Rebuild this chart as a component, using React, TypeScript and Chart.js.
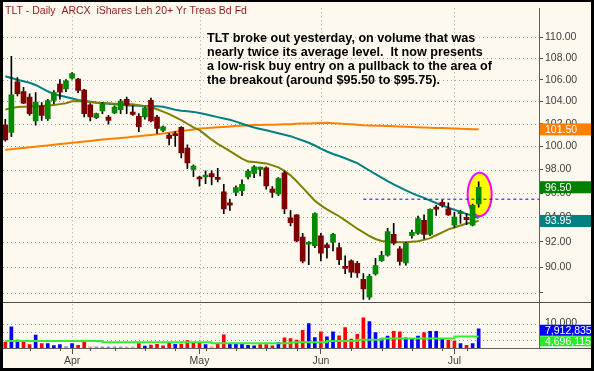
import React, { useEffect, useRef } from "react";
import { Chart, registerables } from "chart.js";

Chart.register(...registerables);
Chart.defaults.font.family = '"Liberation Sans", Arial, sans-serif';

// ---------------- data ----------------
const dates = [
  "2009-03-17","2009-03-18","2009-03-19","2009-03-20","2009-03-23","2009-03-24","2009-03-25","2009-03-26","2009-03-27","2009-03-30","2009-03-31",
  "2009-04-01","2009-04-02","2009-04-03","2009-04-06","2009-04-07","2009-04-08","2009-04-09","2009-04-13","2009-04-14","2009-04-15","2009-04-16","2009-04-17","2009-04-20","2009-04-21","2009-04-22","2009-04-23","2009-04-24","2009-04-27","2009-04-28","2009-04-29","2009-04-30",
  "2009-05-01","2009-05-04","2009-05-05","2009-05-06","2009-05-07","2009-05-08","2009-05-11","2009-05-12","2009-05-13","2009-05-14","2009-05-15","2009-05-18","2009-05-19","2009-05-20","2009-05-21","2009-05-22","2009-05-26","2009-05-27","2009-05-28","2009-05-29",
  "2009-06-01","2009-06-02","2009-06-03","2009-06-04","2009-06-05","2009-06-08","2009-06-09","2009-06-10","2009-06-11","2009-06-12","2009-06-15","2009-06-16","2009-06-17","2009-06-18","2009-06-19","2009-06-22","2009-06-23","2009-06-24","2009-06-25","2009-06-26","2009-06-29","2009-06-30",
  "2009-07-01","2009-07-02","2009-07-06","2009-07-07","2009-07-08",
];

const opens = [
  101.87,101.22,105.80,104.90,104.40,102.26,103.60,102.46,104.10,105.60,
  105.14,106.13,106.05,105.05,103.70,102.55,103.14,102.60,102.96,103.26,
  104.20,103.05,102.66,102.60,104.10,102.60,101.40,101.00,101.10,101.67,
  99.85,98.01,97.30,97.37,97.65,97.30,96.12,95.19,96.07,96.21,
  97.37,97.67,98.01,98.15,96.34,95.93,97.73,93.95,94.21,92.40,
  91.82,91.71,92.50,91.77,91.98,91.55,90.07,90.50,90.30,89.04,
  87.68,89.48,90.52,90.94,92.61,91.45,90.33,92.51,92.68,93.76,
  92.61,94.84,95.24,94.70,93.36,94.30,94.00,93.36,95.10,
];
const highs = [
  102.40,108.19,106.20,105.30,104.70,104.80,103.90,104.20,105.00,106.00,
  106.00,106.65,106.13,105.10,103.80,102.95,103.90,102.75,103.60,104.20,
  104.40,103.60,102.90,103.50,104.30,102.75,101.80,101.15,101.30,101.75,
  100.14,98.40,97.45,97.90,97.90,98.10,96.75,95.50,96.62,97.12,
  98.01,98.35,98.21,98.24,96.56,97.31,97.87,94.56,94.21,92.69,
  92.04,94.38,92.69,91.91,92.69,91.91,90.90,90.57,90.45,89.50,
  89.43,90.70,91.26,93.10,93.50,91.64,92.00,92.96,94.10,94.20,
  94.70,94.98,95.43,95.19,94.43,94.60,94.30,95.10,96.96,
];
const lows = [
  100.46,100.86,104.50,103.80,102.75,101.87,102.30,102.30,103.80,104.20,
  104.90,106.05,104.80,102.60,102.26,102.45,102.90,101.96,102.90,102.90,
  102.90,102.75,101.30,102.40,102.17,101.15,101.30,100.14,100.00,99.00,
  98.07,97.40,96.60,96.80,96.70,96.96,94.30,94.56,95.80,95.80,
  97.20,97.31,97.45,96.34,95.65,95.80,94.30,93.30,92.00,90.33,
  90.20,91.55,90.50,90.70,91.29,90.20,89.50,89.20,89.20,87.50,
  87.50,89.37,90.45,90.87,91.77,90.15,90.15,92.30,92.60,92.24,
  92.50,94.16,94.84,94.16,93.20,93.50,93.40,93.30,94.84,
];
const closes = [
  100.57,104.60,104.70,103.85,102.90,103.94,102.75,104.09,104.80,104.85,
  105.89,106.56,105.00,102.90,102.60,102.90,103.79,102.30,103.50,104.03,
  103.70,102.84,101.73,103.43,102.26,101.58,101.73,100.70,100.95,99.43,
  98.58,98.30,97.20,97.54,97.37,97.17,94.70,95.00,96.48,96.75,
  97.87,98.24,98.21,96.62,96.07,97.23,94.70,93.57,92.08,90.47,
  91.98,94.30,91.10,91.55,92.61,90.60,89.90,89.60,89.55,88.30,
  89.29,90.12,90.94,92.83,91.90,90.45,91.90,92.77,93.90,92.61,
  94.65,94.68,94.98,94.20,94.03,94.40,93.80,95.00,96.50,
];

const ma20 = [
  103.27,103.39,103.50,103.52,103.54,103.57,103.59,103.63,103.69,103.76,
  103.84,104.01,104.02,104.02,103.96,103.89,103.84,103.83,103.80,103.77,
  103.75,103.74,103.66,103.58,103.50,103.30,103.08,102.86,102.59,102.33,
  102.00,101.67,101.43,101.01,100.59,100.23,99.91,99.59,99.27,98.95,
  98.69,98.64,98.58,98.53,98.36,98.19,97.89,97.51,97.01,96.47,
  95.91,95.37,94.99,94.66,94.37,94.09,93.75,93.41,93.07,92.78,
  92.48,92.24,92.08,92.03,92.00,91.98,91.97,92.01,92.06,92.17,
  92.31,92.54,92.78,93.02,93.17,93.33,93.49,93.59,93.70,
];
const ma50 = [
  106.31,106.15,105.99,105.86,105.71,105.51,105.21,104.93,104.67,104.54,
  104.41,104.27,104.13,104.04,103.98,103.91,103.86,103.80,103.75,103.70,
  103.64,103.63,103.61,103.59,103.57,103.56,103.52,103.39,103.26,103.17,
  103.11,103.06,102.96,102.84,102.72,102.59,102.47,102.35,102.19,102.00,
  101.82,101.67,101.54,101.42,101.29,101.16,101.03,100.90,100.71,100.52,
  100.32,100.08,99.81,99.56,99.34,99.17,98.97,98.76,98.56,98.24,
  97.92,97.61,97.31,97.01,96.74,96.49,96.24,96.00,95.80,95.61,
  95.38,95.18,94.98,94.80,94.62,94.45,94.28,94.12,93.95,
];
const ma200 = [
  99.71,99.76,99.82,99.87,99.93,99.98,100.04,100.09,100.15,100.21,
  100.26,100.32,100.37,100.43,100.48,100.54,100.60,100.64,100.69,100.74,
  100.79,100.85,100.90,100.95,101.01,101.07,101.14,101.21,101.28,101.35,
  101.42,101.49,101.57,101.61,101.65,101.68,101.72,101.75,101.79,101.82,
  101.86,101.88,101.89,101.91,101.92,101.94,101.95,101.96,101.99,102.01,
  102.03,102.05,102.07,102.08,102.05,102.01,101.98,101.95,101.91,101.86,
  101.84,101.83,101.81,101.80,101.78,101.76,101.73,101.71,101.69,101.67,
  101.65,101.63,101.61,101.59,101.57,101.56,101.54,101.52,101.50,
];

const volumes = [
  2400000,8700000,3300000,2700000,1400000,5300000,1800000,1800000,1000000,1400000,
  550000,1800000,1100000,2800000,550000,500000,500000,500000,500000,500000,
  500000,500000,1800000,800000,1200000,1500000,900000,2200000,1500000,1600000,
  3100000,2300000,2300000,1400000,550000,1600000,5400000,1500000,1500000,1500000,
  1100000,900000,1400000,1400000,900000,2200000,4200000,3900000,3300000,7300000,
  10000000,4300000,6700000,4600000,6700000,5000000,8400000,3700000,5600000,12400000,
  10900000,6300000,3900000,4900000,6900000,6700000,4200000,3700000,4900000,6300000,
  6900000,6900000,4000000,3200000,2800000,1800000,1100000,1800000,7912835,
];
const volumeUp = [
  0,1,1,0,0,1,0,1,1,1,
  1,1,0,0,0,1,1,1,1,1,
  0,0,0,1,0,0,0,0,1,0,
  0,0,0,1,0,0,0,1,1,1,
  1,1,0,0,0,1,0,0,0,0,
  1,1,0,1,1,0,0,0,0,0,
  1,1,1,1,0,0,1,1,1,0,
  1,1,1,0,0,1,0,1,1,
];
const volumeAvg = [
  2900000,2900000,2900000,2900000,2900000,2900000,2900000,2900000,2900000,2900000,
  2900000,2900000,2900000,2900000,2900000,2900000,2400000,2400000,2400000,2400000,
  2400000,2400000,2400000,2400000,2400000,2400000,2400000,2400000,2400000,2400000,
  2400000,2400000,2400000,2400000,2000000,2000000,2000000,2000000,2000000,2000000,
  2000000,2000000,2000000,2000000,2000000,2000000,2000000,2400000,2400000,2400000,
  2400000,2400000,2400000,2900000,2900000,2900000,2900000,2900000,3400000,3400000,
  3400000,3400000,3950000,3950000,3950000,3950000,3950000,3950000,3950000,3950000,
  3950000,3950000,3950000,3950000,4696115,4696115,4696115,4696115,4696115,
];

const priceTicks = [88, 90, 92, 94, 96, 98, 100, 102, 104, 106, 108, 110];
const volumeGridTicks = [3400000, 6700000, 10000000];
const volumeLabelTick = 10000000;
const breakoutLevel = 95.5;
const breakoutStartIndex = 59;
const monthNames = ["Jan","Feb","Mar","Apr","May","Jun","Jul","Aug","Sep","Oct","Nov","Dec"];
const titleText = "TLT - Daily  ARCX  iShares Leh 20+ Yr Treas Bd Fd";
const noteLines = [
  "TLT broke out yesterday, on volume that was",
  "nearly twice its average level.  It now presents",
  "a low-risk buy entry on a pullback to the area of",
  "the breakout (around $95.50 to $95.75).",
];

// ---------------- layout / style ----------------
const W = 594, H = 371;
const BG = "#fdf9ee";
const X_MIN = -0.379, X_MAX = 87.94;
const PRICE_MIN = 83.87, PRICE_MAX = 112.81;
const VOL_MAX = 139.7e6;
const DIVIDER_Y = 302.5;
const GREEN = "#008a00", DARKRED = "#800000";
const GRID = "#a4a4a4";
const FONT = '"Liberation Sans", Arial, sans-serif';

const parts = dates.map((d) => d.split("-").map(Number));
const monthStarts = parts.map((p, i) => (i > 0 && p[1] !== parts[i - 1][1] ? i : -1)).filter((i) => i >= 0);
const dow = parts.map((p) => new Date(Date.UTC(p[0], p[1] - 1, p[2])).getUTCDay());
const weekStarts = dow.map((d, i) => (i > 0 && d < dow[i - 1] ? i : -1)).filter((i) => i >= 0);
const last = closes.length - 1;

const fmtThousands = (n: number) => Math.round(n).toLocaleString("en-US");

const overlayPlugin = {
  id: "overlay",
  beforeDraw(chart: any) {
    const ctx = chart.ctx;
    ctx.save();
    ctx.fillStyle = BG;
    ctx.fillRect(0, 0, chart.width, chart.height);
    ctx.restore();
  },
  beforeDatasetsDraw(chart: any) {
    const ctx = chart.ctx;
    const a = chart.chartArea;
    const { x, y, y2 } = chart.scales;
    ctx.save();
    // dotted grid lines at the tick values
    ctx.strokeStyle = GRID;
    ctx.lineWidth = 1;
    ctx.setLineDash([1, 3]);
    ctx.beginPath();
    priceTicks.forEach((v) => {
      const py = Math.round(y.getPixelForValue(v)) + 0.5;
      ctx.moveTo(a.left, py);
      ctx.lineTo(a.right, py);
    });
    volumeGridTicks.forEach((v) => {
      const py = Math.round(y2.getPixelForValue(v)) + 0.5;
      ctx.moveTo(a.left, py);
      ctx.lineTo(a.right, py);
    });
    monthStarts.forEach((v) => {
      const px = Math.round(x.getPixelForValue(v)) + 0.5;
      ctx.moveTo(px, a.top);
      ctx.lineTo(px, a.bottom);
    });
    ctx.stroke();
    ctx.setLineDash([]);
    // highlight ellipse around the breakout bar
    const cx = x.getPixelForValue(last) + 1;
    const top = y.getPixelForValue(highs[last]);
    const bot = y.getPixelForValue(lows[last]);
    const cy = (top + bot) / 2;
    ctx.beginPath();
    ctx.ellipse(cx, cy, 12, (bot - top) / 2 + 9, 0, 0, Math.PI * 2);
    ctx.fillStyle = "#ffff00";
    ctx.fill();
    ctx.lineWidth = 2;
    ctx.strokeStyle = "#ff00ff";
    ctx.stroke();
    ctx.restore();
  },
  afterDraw(chart: any) {
    const ctx = chart.ctx;
    const a = chart.chartArea;
    const { x, y, y2 } = chart.scales;
    ctx.save();
    // weekly minor ticks
    ctx.strokeStyle = "#505050";
    ctx.lineWidth = 1;
    weekStarts.forEach((i) => {
      if (monthStarts.includes(i)) return;
      const px = Math.round(x.getPixelForValue(i)) + 0.5;
      ctx.beginPath();
      ctx.moveTo(px, a.bottom);
      ctx.lineTo(px, a.bottom + 3);
      ctx.stroke();
    });
    // panel divider & baseline extension
    ctx.strokeStyle = "#505050";
    ctx.beginPath();
    ctx.moveTo(a.left, DIVIDER_Y);
    ctx.lineTo(W, DIVIDER_Y);
    ctx.moveTo(a.right, a.bottom + 0.5);
    ctx.lineTo(W, a.bottom + 0.5);
    ctx.stroke();

    // title
    ctx.fillStyle = "#8b1c1c";
    ctx.font = `10.5px ${FONT}`;
    ctx.textBaseline = "middle";
    ctx.textAlign = "left";
    ctx.fillText(titleText, 5, 11);

    // note
    ctx.fillStyle = "#000";
    ctx.font = `bold 12.6px ${FONT}`;
    noteLines.forEach((t, k) => ctx.fillText(t, 207, 39 + k * 13.9));

    // volume axis label
    ctx.fillStyle = "#404040";
    ctx.font = `10.5px ${FONT}`;
    ctx.fillText(fmtThousands(volumeLabelTick / 1000), 545, y2.getPixelForValue(volumeLabelTick) - 1);

    const box = (cy: number, h: number, color: string, text: string) => {
      ctx.fillStyle = color;
      ctx.fillRect(a.right + 1, cy - h / 2, W - a.right - 1, h);
      ctx.fillStyle = "#ffffff";
      ctx.fillText(text, 545, cy + 0.5);
    };
    // volume boxes
    const vy = y2.getPixelForValue(volumes[last]) + 1.5;
    box(vy, 11, "#0000ff", fmtThousands(volumes[last]));
    const ay = Math.max(y2.getPixelForValue(volumeAvg[last]), vy + 11);
    box(ay, 10, "#22ee22", fmtThousands(volumeAvg[last]));

    // price boxes
    box(y.getPixelForValue(ma200[last]), 12, "#ff8000", ma200[last].toFixed(2));
    box(y.getPixelForValue(ma20[last]), 12, "#808000", ma20[last].toFixed(2));
    box(y.getPixelForValue(ma50[last]) + 3, 12, "#008080", ma50[last].toFixed(2));
    box(y.getPixelForValue(closes[last]), 12, "#008000", closes[last].toFixed(2));

    // frame
    ctx.fillStyle = "#000";
    ctx.fillRect(0, 0, W, 2);
    ctx.fillRect(0, 0, 3, H);
    ctx.fillRect(W - 3, 0, 3, H);
    ctx.fillRect(0, H - 3, W, 3);
    ctx.restore();
  },
};

export default function App() {
  const ref = useRef<HTMLCanvasElement>(null);
  useEffect(() => {
    const canvas = ref.current;
    if (!canvas) return;
    const idx = closes.map((_, i) => i);
    const chart = new Chart(canvas, {
      type: "bar",
      data: {
        datasets: [
          {
            type: "line",
            label: "breakout",
            data: [
              { x: breakoutStartIndex, y: breakoutLevel },
              { x: X_MAX, y: breakoutLevel },
            ],
            borderColor: "#0000ff",
            borderWidth: 1,
            borderDash: [3, 3],
            pointRadius: 0,
            yAxisID: "y",
            order: 1,
          } as any,
          {
            type: "bar",
            label: "body",
            data: idx.map((i) => ({ x: i, y: [opens[i], closes[i]] })),
            backgroundColor: idx.map((i) => (closes[i] >= opens[i] ? GREEN : DARKRED)),
            barThickness: 5,
            minBarLength: 2,
            grouped: false,
            yAxisID: "y",
            order: 2,
          } as any,
          {
            type: "bar",
            label: "wick",
            data: idx.map((i) => ({ x: i, y: [lows[i], highs[i]] })),
            backgroundColor: "#000000",
            barThickness: 1,
            grouped: false,
            yAxisID: "y",
            order: 3,
          } as any,
          {
            type: "line",
            label: "MA20",
            data: idx.map((i) => ({ x: i, y: ma20[i] })),
            borderColor: "#808000",
            borderWidth: 2,
            pointRadius: 0,
            yAxisID: "y",
            order: 4,
          } as any,
          {
            type: "line",
            label: "MA50",
            data: idx.map((i) => ({ x: i, y: ma50[i] })),
            borderColor: "#008080",
            borderWidth: 2,
            pointRadius: 0,
            yAxisID: "y",
            order: 5,
          } as any,
          {
            type: "line",
            label: "MA200",
            data: idx.map((i) => ({ x: i, y: ma200[i] })),
            borderColor: "#ff8000",
            borderWidth: 2,
            pointRadius: 0,
            yAxisID: "y",
            order: 6,
          } as any,
          {
            type: "line",
            label: "VolAvg",
            data: idx.map((i) => ({ x: i, y: volumeAvg[i] })),
            borderColor: "#33ee33",
            borderWidth: 2,
            pointRadius: 0,
            stepped: true,
            yAxisID: "y2",
            order: 7,
          } as any,
          {
            type: "bar",
            label: "Volume",
            data: idx.map((i) => ({ x: i, y: volumes[i] })),
            backgroundColor: idx.map((i) => {
              const pale = volumes[i] < 600000;
              if (volumeUp[i]) return pale ? "#8c8cff" : "#0000ff";
              return pale ? "#ff9a9a" : "#ff0000";
            }),
            barThickness: 3,
            grouped: false,
            yAxisID: "y2",
            order: 8,
          } as any,
        ],
      },
      options: {
        responsive: false,
        animation: false,
        devicePixelRatio: 1,
        layout: { padding: { left: 3, top: 3, right: 0, bottom: 3 } },
        plugins: { legend: { display: false }, tooltip: { enabled: false } },
        events: [],
        scales: {
          x: {
            type: "linear",
            offset: false,
            min: X_MIN,
            max: X_MAX,
            bounds: "data",
            afterBuildTicks: (s: any) => {
              s.ticks = monthStarts.map((v) => ({ value: v }));
            },
            afterFit: (s: any) => {
              s.height = 20;
            },
            ticks: {
              autoSkip: false,
              maxRotation: 0,
              padding: 1,
              color: "#404040",
              font: { size: 10.5, family: FONT },
              callback: (v: any) => {
                const p = parts[Number(v)];
                return p ? monthNames[p[1] - 1] : "";
              },
            },
            grid: {
              offset: false,
              drawOnChartArea: false,
              tickLength: 6,
              tickColor: "#505050",
            },
            border: { display: true, color: "#606060" },
          },
          y: {
            type: "logarithmic",
            position: "right",
            min: PRICE_MIN,
            max: PRICE_MAX,
            bounds: "data",
            afterBuildTicks: (s: any) => {
              s.ticks = priceTicks.map((v) => ({ value: v }));
            },
            afterFit: (s: any) => {
              s.width = 55;
            },
            ticks: {
              autoSkip: false,
              padding: 2,
              color: "#404040",
              font: { size: 10.5, family: FONT },
              callback: (v: any) => (Number(v) === priceTicks[0] ? "" : Number(v).toFixed(2)),
            },
            grid: {
              drawOnChartArea: false,
              tickLength: 4,
              tickColor: "#505050",
            },
            border: { display: true, color: "#606060" },
          },
          y2: {
            type: "linear",
            position: "left",
            min: 0,
            max: VOL_MAX,
            bounds: "data",
            afterBuildTicks: (s: any) => {
              s.ticks = volumeGridTicks.map((v) => ({ value: v }));
            },
            afterFit: (s: any) => {
              s.width = 0;
            },
            ticks: { display: false },
            grid: { display: false },
            border: { display: false },
          },
        },
      } as any,
      plugins: [overlayPlugin],
    });
    return () => chart.destroy();
  }, []);

  return (
    <div style={{ position: "fixed", left: 0, top: 0, width: W, height: H, background: BG }}>
      <canvas ref={ref} width={W} height={H} style={{ display: "block", width: W, height: H }} />
    </div>
  );
}
